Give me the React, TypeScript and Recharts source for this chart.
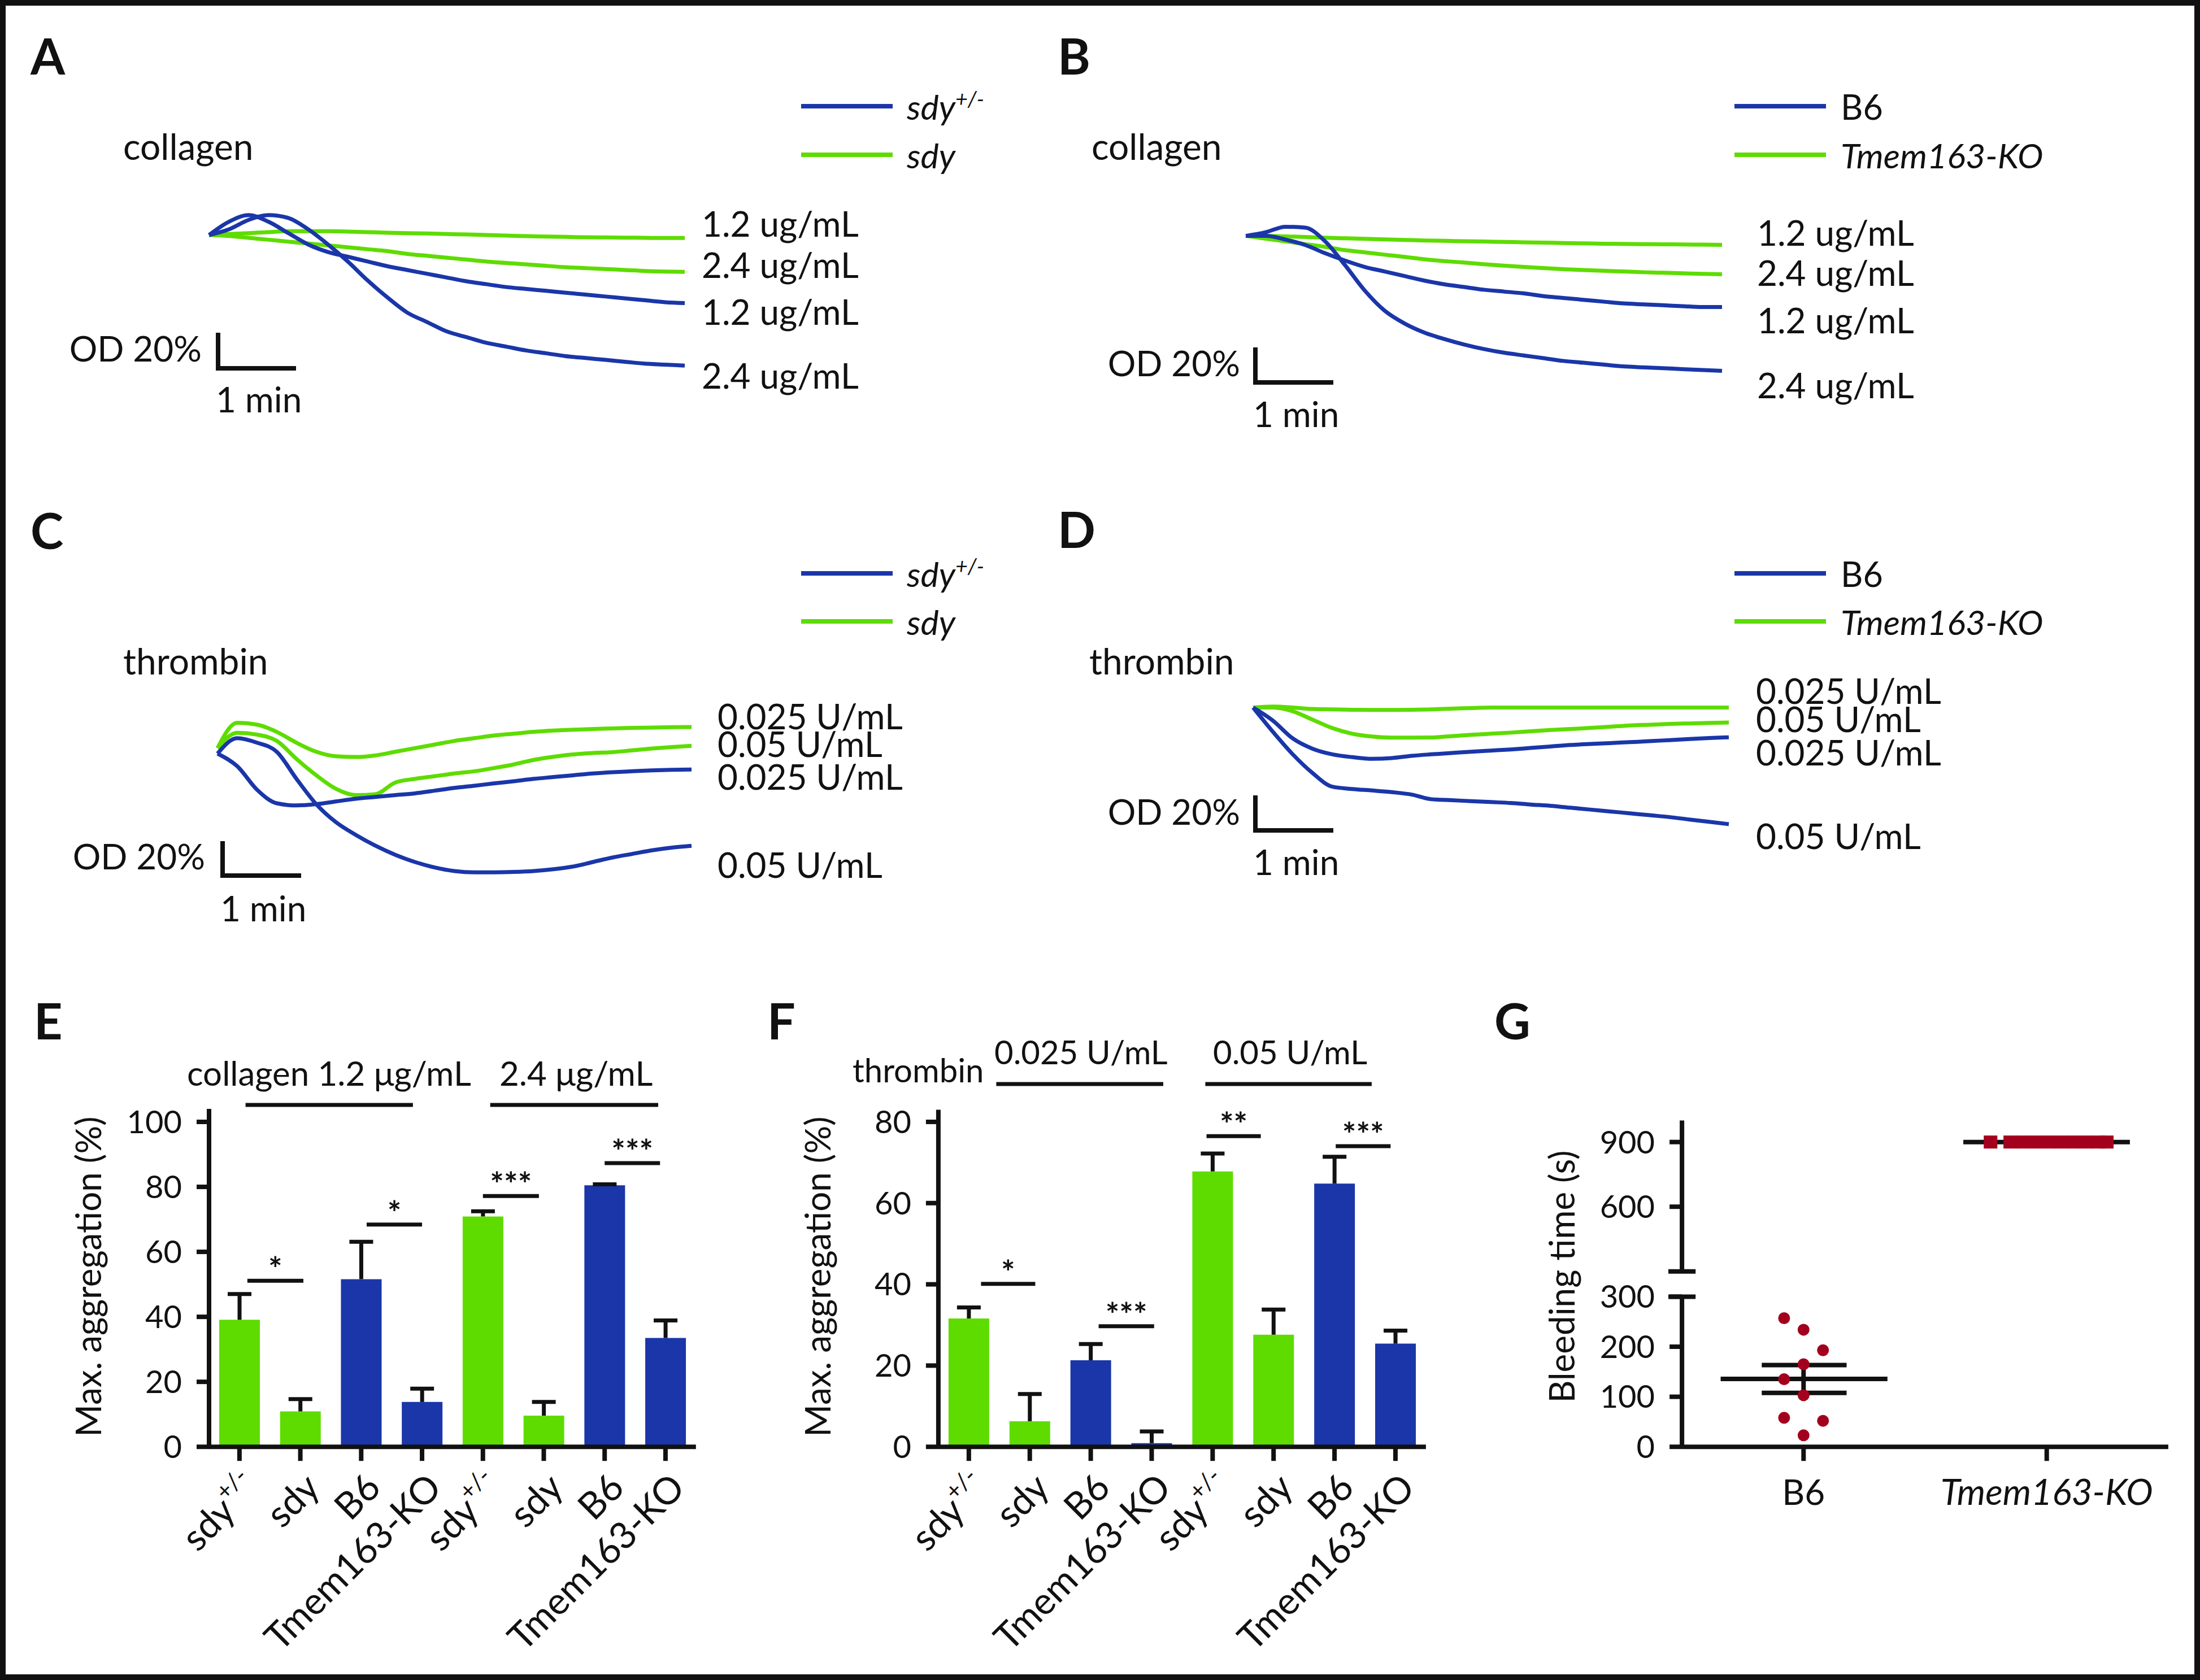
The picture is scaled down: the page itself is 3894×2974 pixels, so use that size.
import React from "react";
import {
  LineChart,
  Line,
  XAxis,
  YAxis,
  ComposedChart,
  Bar,
  Cell,
  ReferenceLine,
  ScatterChart,
  Scatter,
} from "recharts";

const BLUE = "#1a36a9";
const GREEN = "#5edc00";
const RED = "#a3001e";
const INK = "#111111";
const FONT = "Lato, 'Open Sans', sans-serif";

// aggregometer traces: time (min) and change in light transmission (%)
const traceTime = [0, 0.25, 0.5, 0.75, 1, 1.25, 1.5, 1.75, 2, 2.25, 2.5, 2.75, 3, 3.25, 3.5, 3.75, 4, 4.25, 4.5, 4.75, 5, 5.25, 5.5, 5.75, 6];

// A: collagen, sdy+/- (blue) vs sdy (green)
const aHet12 = [0, 7, 10.5, 7, 1, -5, -9, -11.5, -14, -16.5, -18.5, -20.5, -22.5, -24.5, -26, -27.5, -28.5, -29.5, -30.5, -31.5, -32.5, -33.5, -34.5, -35.5, -36];
const aHet24 = [0, 3, 8, 10.5, 9, 3, -5, -14, -24, -33, -41, -46, -51, -54, -57, -59, -61, -62.5, -64, -65, -66, -67, -68, -68.5, -69];
const aSdy12 = [0, 0.5, 1, 1.5, 2, 2, 2, 1.8, 1.5, 1.2, 1, 0.8, 0.5, 0.3, 0, -0.3, -0.6, -0.8, -1, -1.2, -1.3, -1.4, -1.5, -1.6, -1.6];
const aSdy24 = [0, -0.5, -1.5, -2.5, -3.5, -4.5, -5.5, -6.5, -7.5, -8.5, -10, -11, -12, -13, -14, -14.8, -15.5, -16.3, -17, -17.5, -18, -18.5, -19, -19.3, -19.5];

// B: collagen, B6 (blue) vs Tmem163-KO (green)
const bWt12 = [0, 0, -2, -5, -9.5, -13.5, -17, -19.5, -22, -24.5, -26.5, -28, -29.5, -30.5, -31.5, -33, -34, -35, -36, -37, -37.5, -38, -38.5, -39, -39];
const bWt24 = [0, 2, 5, 4.5, -3, -16, -30, -41, -48, -53, -56.5, -59.5, -62, -64, -65.5, -67, -68.5, -69.5, -70.5, -71.5, -72, -72.5, -73, -73.5, -74];
const bKo12 = [0, 0, -0.3, -0.6, -1, -1.3, -1.6, -1.9, -2.2, -2.5, -2.7, -2.9, -3.1, -3.3, -3.5, -3.7, -3.9, -4.1, -4.3, -4.4, -4.5, -4.6, -4.7, -4.8, -4.9];
const bKo24 = [0, -1.5, -3, -4.5, -6, -7.8, -9, -10.3, -11.5, -12.8, -13.8, -14.6, -15.5, -16.3, -17, -17.6, -18.2, -18.7, -19.1, -19.5, -19.9, -20.2, -20.5, -20.8, -21];

// C: thrombin, sdy+/- (blue) vs sdy (green)
const cHet025 = [0, -7, -20, -27.5, -28.7, -28, -26.5, -25, -24, -23, -22, -20.5, -19, -17.8, -16.5, -15.3, -14, -13, -12, -11, -10.3, -9.8, -9.3, -9, -8.8];
const cHet05 = [0, 8.5, 6, 1, -14, -28, -38, -45, -51, -56, -60, -63, -65, -65.7, -65.7, -65.5, -65, -64, -62.5, -60, -57.5, -55.5, -53.5, -52, -51];
const cSdy025 = [3, 17, 16, 12, 6, 1, -1.5, -1.9, -1, 1, 3, 5, 7, 8.5, 10, 11, 12, 12.7, 13.2, 13.6, 13.9, 14.2, 14.4, 14.6, 14.7];
const cSdy05 = [3, 11.5, 10.5, 7, -3, -12, -19.5, -23, -22.5, -16, -14, -12.5, -11, -9.8, -8, -6, -3.5, -1.8, -0.5, 0.3, 0.8, 1.8, 2.8, 3.6, 4.3];

// D: thrombin, B6 (blue) vs Tmem163-KO (green)
const dWt025 = [0, -7, -16.5, -22, -25, -26.5, -27.4, -27, -25.8, -25, -24.3, -23.6, -23, -22.4, -21.6, -20.8, -20, -19.5, -19, -18.5, -18, -17.4, -16.8, -16.3, -15.9];
const dWt05 = [0, -13, -25, -35, -42.3, -43.5, -44.3, -45.2, -46.5, -49, -49.5, -50, -50.5, -51, -51.8, -52.5, -53.5, -54.5, -55.5, -56.5, -57.5, -58.5, -59.8, -61, -62.3];
const dKo025 = [0, 0.5, 0, -0.8, -1, -1.2, -1.3, -1.3, -1.2, -1, -0.6, -0.3, 0, 0, 0, 0, 0, 0, 0, 0, 0, 0, 0, 0, 0];
const dKo05 = [0, 0, -2, -6.5, -11, -14, -15.5, -16.1, -16.1, -16, -15.3, -14.6, -14, -13.4, -12.7, -12, -11.5, -10.9, -10.3, -9.6, -9.2, -8.8, -8.5, -8.2, -8];

// E/F: max aggregation, mean and SEM
const genotypes = ["sdy+/-", "sdy", "B6", "Tmem163-KO", "sdy+/-", "sdy", "B6", "Tmem163-KO"];
const barColors = [GREEN, GREEN, BLUE, BLUE, GREEN, GREEN, BLUE, BLUE];
const eMean = [39.1, 10.9, 51.6, 13.8, 70.9, 9.6, 80.5, 33.5];
const eSem = [7.9, 3.8, 11.5, 4.1, 1.6, 4.2, 0.3, 5.4];
const fMean = [31.6, 6.3, 21.3, 0.9, 67.8, 27.6, 64.8, 25.4];
const fSem = [2.7, 6.7, 4.0, 2.9, 4.4, 6.2, 6.6, 3.2];

// significance brackets: [from, to, height, stars] on a 0..8 slot axis
const eSig: [number, number, number, string][] = [
  [0.63, 1.55, 51.1, "*"],
  [2.59, 3.5, 68.4, "*"],
  [4.5, 5.42, 77.2, "***"],
  [6.5, 7.41, 87.3, "***"],
];
const eGroups: [number, number, number][] = [
  [0.6, 3.35, 105.2],
  [4.62, 7.38, 105.2],
];
const fSig: [number, number, number, string][] = [
  [0.7, 1.59, 40.1, "*"],
  [2.63, 3.54, 29.7, "***"],
  [4.4, 5.29, 76.5, "**"],
  [6.52, 7.42, 74.0, "***"],
];
const fGroups: [number, number, number][] = [
  [0.95, 3.69, 89.3],
  [4.38, 7.11, 89.3],
];

// G: bleeding time (s)
const b6Bleed = [257, 234, 193, 165, 135, 103, 58, 52, 23];
const b6Pos = [0.92, 1.0, 1.08, 1.0, 0.92, 1.0, 0.92, 1.08, 1.0];
const koBleed = [900, 900, 900, 900, 900, 900, 900, 900, 900, 900];
const koPos = [1.769, 1.85, 1.902, 1.954, 2.006, 2.058, 2.11, 2.162, 2.214, 2.247];

type Series = { key: string; color: string; values: number[] };

function Txt({
  x,
  y,
  size = 60,
  anchor = "start",
  italic = false,
  bold = false,
  rotate = 0,
  children,
}: any) {
  const tx = anchor === "start" ? "0%" : anchor === "middle" ? "-50%" : "-100%";
  return (
    <div
      style={{
        position: "absolute",
        left: x,
        top: y,
        transform: `translate(${tx}, -50%)` + (rotate ? ` rotate(${rotate}deg)` : ""),
        fontSize: size,
        lineHeight: 1,
        whiteSpace: "nowrap",
        fontStyle: italic ? "italic" : "normal",
        fontWeight: bold ? 700 : 400,
        color: INK,
      }}
    >
      {children}
    </div>
  );
}

const Sup = ({ children }: any) => (
  <span style={{ fontSize: "0.62em", position: "relative", top: "-0.6em" }}>{children}</span>
);

function Rule({ x, y, w, h, color = INK }: any) {
  return <div style={{ position: "absolute", left: x, top: y, width: w, height: h, background: color }} />;
}

function TracePanel({ left, top, width, height, domain, series }: any) {
  const rows = traceTime.map((t, i) => {
    const r: Record<string, number> = { t };
    series.forEach((s: Series) => {
      r[s.key] = s.values[i];
    });
    return r;
  });
  return (
    <div style={{ position: "absolute", left, top }}>
      <LineChart width={width} height={height} data={rows} margin={{ top: 0, right: 0, bottom: 0, left: 0 }}>
        <XAxis dataKey="t" type="number" domain={[0, 6]} hide />
        <YAxis type="number" domain={domain} hide allowDataOverflow />
        {series.map((s: Series) => (
          <Line
            key={s.key}
            dataKey={s.key}
            stroke={s.color}
            strokeWidth={7}
            dot={false}
            type="monotone"
            isAnimationActive={false}
          />
        ))}
      </LineChart>
    </div>
  );
}

function ErrShape(p: any) {
  const cx = p.x + p.width / 2;
  return (
    <g>
      <line x1={cx} x2={cx} y1={p.y + p.height} y2={p.y} stroke={INK} strokeWidth={7} />
      <line x1={cx - 21} x2={cx + 21} y1={p.y} y2={p.y} stroke={INK} strokeWidth={7} />
    </g>
  );
}

function SlantTick(props: any) {
  const { x, y, payload } = props;
  const idx = Number(String(payload.value).slice(1));
  const name = genotypes[idx];
  return (
    <g transform={`translate(${x + 38},${y + 49}) rotate(-45)`}>
      <text textAnchor="end" fontSize={66} fontFamily={FONT} fill={INK}>
        {name === "sdy+/-" ? (
          <>
            sdy
            <tspan fontSize={42} dy={-30}>
              +/-
            </tspan>
          </>
        ) : (
          name
        )}
      </text>
    </g>
  );
}

function BarPanel({ left, top, width, height, margin, yMax, ticks, means, sems, sig, groups }: any) {
  const rows = genotypes.map((g, i) => ({ id: `c${i}`, slot: i + 0.5, mean: means[i], sem: sems[i] }));
  return (
    <div style={{ position: "absolute", left, top }}>
      <ComposedChart width={width} height={height} data={rows} margin={margin}>
        <XAxis
          dataKey="id"
          interval={0}
          height={300}
          tick={<SlantTick />}
          tickSize={25}
          axisLine={{ stroke: INK, strokeWidth: 8 }}
          tickLine={{ stroke: INK, strokeWidth: 8 }}
        />
        <XAxis xAxisId="n" dataKey="slot" type="number" domain={[0, 8]} hide allowDataOverflow />
        <YAxis
          width={200}
          domain={[0, yMax]}
          ticks={ticks}
          allowDataOverflow
          tickSize={22}
          tickMargin={26}
          tick={{ fontSize: 56, fill: INK, fontFamily: FONT }}
          axisLine={{ stroke: INK, strokeWidth: 8 }}
          tickLine={{ stroke: INK, strokeWidth: 8 }}
        />
        <Bar dataKey="mean" stackId="s" barSize={72} isAnimationActive={false}>
          {rows.map((r, i) => (
            <Cell key={r.id} fill={barColors[i]} />
          ))}
        </Bar>
        <Bar dataKey="sem" stackId="s" barSize={72} shape={ErrShape} isAnimationActive={false} />
        {sig.map(([a, b, h, s]: any, i: number) => (
          <ReferenceLine
            key={`s${i}`}
            xAxisId="n"
            segment={[
              { x: a, y: h },
              { x: b, y: h },
            ]}
            stroke={INK}
            strokeWidth={7}
            ifOverflow="visible"
            label={{ value: s, position: "top", offset: 0, fontSize: 58, fontWeight: 700, fill: INK, fontFamily: FONT }}
          />
        ))}
        {groups.map(([a, b, h]: any, i: number) => (
          <ReferenceLine
            key={`g${i}`}
            xAxisId="n"
            segment={[
              { x: a, y: h },
              { x: b, y: h },
            ]}
            stroke={INK}
            strokeWidth={7}
            ifOverflow="visible"
          />
        ))}
      </ComposedChart>
    </div>
  );
}

const noMark = () => <g />;
const seg = (x1: number, x2: number, y1: number, y2: number) => [
  { x: x1, y: y1 },
  { x: x2, y: y2 },
];

function GTick(props: any) {
  const { x, y, payload } = props;
  const ko = payload.value === 2;
  return (
    <text x={x} y={y + 76} textAnchor="middle" fontSize={ko ? 64 : 62} fontFamily={FONT} fill={INK} fontStyle={ko ? "italic" : "normal"}>
      {ko ? "Tmem163-KO" : "B6"}
    </text>
  );
}

function BleedPanel() {
  const b6 = b6Bleed.map((v, i) => ({ x: b6Pos[i], y: v }));
  const ko = koBleed.map((v, i) => ({ x: koPos[i], y: v }));
  const mean = b6Bleed.reduce((a, b) => a + b, 0) / b6Bleed.length;
  const sd = Math.sqrt(b6Bleed.reduce((a, b) => a + (b - mean) * (b - mean), 0) / (b6Bleed.length - 1));
  const sem = sd / Math.sqrt(b6Bleed.length);
  const ax = {
    axisLine: { stroke: INK, strokeWidth: 8 },
    tickLine: { stroke: INK, strokeWidth: 8 },
  };
  const lineStyle = { stroke: INK, strokeWidth: 8 };
  return (
    <>
      <div style={{ position: "absolute", left: 2600, top: 1800 }}>
        <ScatterChart width={1280} height={460} margin={{ top: 183.5, right: 42.1, bottom: 9.3, left: 177.1 }}>
          <XAxis dataKey="x" type="number" domain={[0.5, 2.5]} hide allowDataOverflow />
          <YAxis
            dataKey="y"
            type="number"
            width={200}
            domain={[300, 1000]}
            ticks={[300, 600, 900]}
            allowDataOverflow
            tickSize={22}
            tickMargin={26}
            tick={{ fontSize: 56, fill: INK, fontFamily: FONT }}
            {...ax}
          />
          <ReferenceLine segment={seg(0.444, 0.556, 300, 300)} stroke={INK} strokeWidth={8} ifOverflow="visible" />
          <Scatter data={seg(1.657, 2.342, 900, 900)} line={lineStyle} shape={noMark} isAnimationActive={false} />
          <Scatter
            data={ko}
            isAnimationActive={false}
            shape={(p: any) => <rect x={p.cx - 12} y={p.cy - 11.5} width={24} height={23} fill={RED} />}
          />
        </ScatterChart>
      </div>
      <div style={{ position: "absolute", left: 2600, top: 2200 }}>
        <ScatterChart width={1280} height={600} margin={{ top: 95.4, right: 42.1, bottom: 118.8, left: 177.1 }}>
          <XAxis
            dataKey="x"
            type="number"
            domain={[0.5, 2.5]}
            ticks={[1, 2]}
            height={120}
            tickSize={25}
            tick={<GTick />}
            allowDataOverflow
            {...ax}
          />
          <YAxis
            dataKey="y"
            type="number"
            width={200}
            domain={[0, 300]}
            ticks={[0, 100, 200, 300]}
            allowDataOverflow
            tickSize={22}
            tickMargin={26}
            tick={{ fontSize: 56, fill: INK, fontFamily: FONT }}
            {...ax}
          />
          <ReferenceLine segment={seg(0.444, 0.556, 300, 300)} stroke={INK} strokeWidth={8} ifOverflow="visible" />
          <Scatter data={seg(0.659, 1.345, mean, mean)} line={lineStyle} shape={noMark} isAnimationActive={false} />
          <Scatter data={seg(0.828, 1.177, mean + sem, mean + sem)} line={lineStyle} shape={noMark} isAnimationActive={false} />
          <Scatter data={seg(0.828, 1.177, mean - sem, mean - sem)} line={lineStyle} shape={noMark} isAnimationActive={false} />
          <Scatter data={seg(1, 1, mean - sem, mean + sem)} line={lineStyle} shape={noMark} isAnimationActive={false} />
          <Scatter
            data={b6}
            isAnimationActive={false}
            shape={(p: any) => <circle cx={p.cx} cy={p.cy} r={10.5} fill={RED} />}
          />
        </ScatterChart>
      </div>
    </>
  );
}

function LegendRows({ x, lineX, y1, y2, top, bottom }: any) {
  return (
    <>
      <Rule x={lineX} y={y1 - 4} w={162} h={8} color={BLUE} />
      <Rule x={lineX} y={y2 - 4} w={162} h={8} color={GREEN} />
      <Txt x={x} y={y1} size={61} italic={top.italic}>
        {top.text}
      </Txt>
      <Txt x={x} y={y2} size={61} italic={bottom.italic}>
        {bottom.text}
      </Txt>
    </>
  );
}

function ScaleBar({ x, y1, y2, x2, odX, odY, minY }: any) {
  return (
    <>
      <Rule x={x} y={y1} w={8} h={y2 - y1} />
      <Rule x={x} y={y2 - 8} w={x2 - x} h={8} />
      <Txt x={odX} y={odY} size={62} anchor="end">
        OD 20%
      </Txt>
      <Txt x={x} y={minY} size={62}>
        1 min
      </Txt>
    </>
  );
}

export default function App() {
  const sdyHet = { text: <>sdy<Sup>+/-</Sup></>, italic: true };
  const sdy = { text: "sdy", italic: true };
  const b6 = { text: "B6", italic: false };
  const ko = { text: "Tmem163-KO", italic: true };
  return (
    <div
      style={{
        position: "absolute",
        left: 0,
        top: 0,
        width: 3894,
        height: 2974,
        boxSizing: "border-box",
        border: `10px solid ${INK}`,
        background: "#fff",
        fontFamily: FONT,
        overflow: "hidden",
      }}
    >
      <style>{`.recharts-surface{overflow:visible}`}</style>
      <div style={{ position: "absolute", left: -10, top: -10, width: 3894, height: 2974 }}>
        {/* panel letters */}
        <Txt x={54} y={98} size={88} bold>A</Txt>
        <Txt x={1872} y={98} size={88} bold>B</Txt>
        <Txt x={54} y={938} size={88} bold>C</Txt>
        <Txt x={1872} y={936} size={88} bold>D</Txt>
        <Txt x={60} y={1806} size={88} bold>E</Txt>
        <Txt x={1358} y={1806} size={88} bold>F</Txt>
        <Txt x={2645} y={1806} size={88} bold>G</Txt>

        {/* A */}
        <LegendRows x={1605} lineX={1418} y1={188} y2={274} top={sdyHet} bottom={sdy} />
        <Txt x={218} y={259} size={64}>collagen</Txt>
        <TracePanel
          left={370}
          top={349}
          width={842}
          height={335}
          domain={[-80, 20]}
          series={[
            { key: "g12", color: GREEN, values: aSdy12 },
            { key: "g24", color: GREEN, values: aSdy24 },
            { key: "b12", color: BLUE, values: aHet12 },
            { key: "b24", color: BLUE, values: aHet24 },
          ]}
        />
        <Txt x={1242} y={395} size={62}>1.2 ug/mL</Txt>
        <Txt x={1242} y={468} size={62}>2.4 ug/mL</Txt>
        <Txt x={1242} y={551} size={62}>1.2 ug/mL</Txt>
        <Txt x={1242} y={664} size={62}>2.4 ug/mL</Txt>
        <ScaleBar x={382} y1={589} y2={656} x2={524} odX={357} odY={616} minY={706} />

        {/* B */}
        <LegendRows x={3258} lineX={3070} y1={188} y2={274} top={b6} bottom={ko} />
        <Txt x={1932} y={259} size={64}>collagen</Txt>
        <TracePanel
          left={2205}
          top={352.6}
          width={843}
          height={323}
          domain={[-80, 20]}
          series={[
            { key: "g12", color: GREEN, values: bKo12 },
            { key: "g24", color: GREEN, values: bKo24 },
            { key: "b12", color: BLUE, values: bWt12 },
            { key: "b24", color: BLUE, values: bWt24 },
          ]}
        />
        <Txt x={3110} y={411} size={62}>1.2 ug/mL</Txt>
        <Txt x={3110} y={482} size={62}>2.4 ug/mL</Txt>
        <Txt x={3110} y={566} size={62}>1.2 ug/mL</Txt>
        <Txt x={3110} y={681} size={62}>2.4 ug/mL</Txt>
        <ScaleBar x={2218} y1={615} y2={681} x2={2360} odX={2195} odY={642} minY={732} />

        {/* C */}
        <LegendRows x={1605} lineX={1418} y1={1015} y2={1100} top={sdyHet} bottom={sdy} />
        <Txt x={218} y={1170} size={64}>thrombin</Txt>
        <TracePanel
          left={385}
          top={1237.6}
          width={839}
          height={320}
          domain={[-70, 30]}
          series={[
            { key: "g025", color: GREEN, values: cSdy025 },
            { key: "g05", color: GREEN, values: cSdy05 },
            { key: "b025", color: BLUE, values: cHet025 },
            { key: "b05", color: BLUE, values: cHet05 },
          ]}
        />
        <Txt x={1270} y={1267} size={62}>0.025 U/mL</Txt>
        <Txt x={1270} y={1316} size={62}>0.05 U/mL</Txt>
        <Txt x={1270} y={1374} size={62}>0.025 U/mL</Txt>
        <Txt x={1270} y={1530} size={62}>0.05 U/mL</Txt>
        <ScaleBar x={390} y1={1489} y2={1554} x2={533} odX={363} odY={1515} minY={1607} />

        {/* D */}
        <LegendRows x={3258} lineX={3070} y1={1015} y2={1100} top={b6} bottom={ko} />
        <Txt x={1928} y={1170} size={64}>thrombin</Txt>
        <TracePanel
          left={2218}
          top={1152.6}
          width={842}
          height={331.5}
          domain={[-70, 30]}
          series={[
            { key: "g025", color: GREEN, values: dKo025 },
            { key: "g05", color: GREEN, values: dKo05 },
            { key: "b025", color: BLUE, values: dWt025 },
            { key: "b05", color: BLUE, values: dWt05 },
          ]}
        />
        <Txt x={3108} y={1222} size={62}>0.025 U/mL</Txt>
        <Txt x={3108} y={1272} size={62}>0.05 U/mL</Txt>
        <Txt x={3108} y={1331} size={62}>0.025 U/mL</Txt>
        <Txt x={3108} y={1479} size={62}>0.05 U/mL</Txt>
        <ScaleBar x={2218} y1={1408} y2={1474} x2={2360} odX={2195} odY={1436} minY={1525} />

        {/* E */}
        <Txt x={331} y={1899} size={60}>collagen 1.2 μg/mL</Txt>
        <Txt x={884} y={1899} size={60}>2.4 μg/mL</Txt>
        <Txt x={155} y={2260} size={62} anchor="middle" rotate={-90}>Max. aggregation (%)</Txt>
        <BarPanel
          left={0}
          top={1800}
          width={1300}
          height={1100}
          margin={{ top: 163, right: 68.2, bottom: 38.8, left: 170 }}
          yMax={104}
          ticks={[0, 20, 40, 60, 80, 100]}
          means={eMean}
          sems={eSem}
          sig={eSig}
          groups={eGroups}
        />

        {/* F */}
        <Txt x={1509} y={1894} size={58}>thrombin</Txt>
        <Txt x={1760} y={1862} size={58}>0.025 U/mL</Txt>
        <Txt x={2147} y={1862} size={58}>0.05 U/mL</Txt>
        <Txt x={1446} y={2260} size={62} anchor="middle" rotate={-90}>Max. aggregation (%)</Txt>
        <BarPanel
          left={1300}
          top={1800}
          width={1300}
          height={1100}
          margin={{ top: 164.4, right: 76.1, bottom: 38.8, left: 160.9 }}
          yMax={83}
          ticks={[0, 20, 40, 60, 80]}
          means={fMean}
          sems={fSem}
          sig={fSig}
          groups={fGroups}
        />

        {/* G */}
        <Txt x={2763} y={2260} size={62} anchor="middle" rotate={-90}>Bleeding time (s)</Txt>
        <BleedPanel />
      </div>
    </div>
  );
}
